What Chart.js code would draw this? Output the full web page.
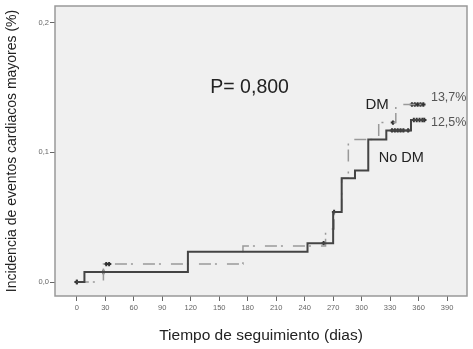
<!DOCTYPE html>
<html>
<head>
<meta charset="utf-8">
<script src="https://cdn.jsdelivr.net/npm/chart.js@4"></script>
<style>
    body { margin: 0; background: #fff; }
    #wrap { width: 473px; height: 349px; }
</style>
</head>
<body>
<div id="wrap"><canvas id="kmChart"></canvas></div>
<script>
// Kaplan-Meier style incidence curves (days, cumulative incidence)
const noDmDays = [0, 8, 117, 243, 270, 279, 293, 307, 326, 352, 366];
const noDmInc = [0, 0.0077, 0.0233, 0.030, 0.054, 0.080, 0.086, 0.110, 0.117, 0.125, 0.125];

const dmDays = [0, 28, 175, 262, 271, 279, 286, 318, 336, 366];
const dmInc = [0, 0.0138, 0.0277, 0.041, 0.054, 0.080, 0.110, 0.123, 0.137, 0.137];

// censored observations
const noDmCensorDays = [0, 28, 271, 332, 335, 338, 341, 344, 349, 355, 358, 361, 364, 366];
const noDmCensorInc = [0, 0.0077, 0.054, 0.117, 0.117, 0.117, 0.117, 0.117, 0.117, 0.125, 0.125, 0.125, 0.125, 0.125];
const dmCensorDays = [0, 31, 34, 260, 333, 353, 356, 359, 362, 365];
const dmCensorInc = [0, 0.0138, 0.0138, 0.030, 0.123, 0.137, 0.137, 0.137, 0.137, 0.137];

const xTicks = [0, 30, 60, 90, 120, 150, 180, 210, 240, 270, 300, 330, 360, 390];
const yTicks = [0, 0.1, 0.2];

const annotations = [
    { text: 'P= 0,800', x: 182, y: 0.150, size: 19.5, color: '#222', align: 'center' },
    { text: 'DM', x: 304, y: 0.137, size: 15, color: '#222', align: 'left' },
    { text: 'No DM', x: 318, y: 0.0954, size: 14.5, color: '#222', align: 'left' },
    { text: '13,7%', x: 373, y: 0.1423, size: 12.5, color: '#555', align: 'left' },
    { text: '12,5%', x: 373, y: 0.123, size: 12.5, color: '#555', align: 'left' }
];

function toPoints(xs, ys) {
    return xs.map((x, i) => ({ x: x, y: ys[i] }));
}

const plotFrame = {
    id: 'plotFrame',
    beforeDatasetsDraw(chart) {
        const a = chart.chartArea;
        const ctx = chart.ctx;
        ctx.save();
        ctx.fillStyle = '#f0f0f0';
        ctx.fillRect(a.left, a.top, a.right - a.left, a.bottom - a.top);
        ctx.restore();
    },
    afterDraw(chart) {
        const a = chart.chartArea;
        const ctx = chart.ctx;
        ctx.save();
        ctx.strokeStyle = '#999';
        ctx.lineWidth = 1.5;
        ctx.strokeRect(a.left, a.top, a.right - a.left, a.bottom - a.top);
        // text labels
        const xs = chart.scales.x, ys = chart.scales.y;
        annotations.forEach(t => {
            ctx.font = t.size + 'px "Liberation Sans", Arial, sans-serif';
            ctx.fillStyle = t.color;
            ctx.textAlign = t.align;
            ctx.textBaseline = 'middle';
            ctx.fillText(t.text, xs.getPixelForValue(t.x), ys.getPixelForValue(t.y));
        });
        ctx.restore();
    }
};

const tickFont = { family: '"Liberation Sans", Arial, sans-serif', size: 7.5 };

new Chart(document.getElementById('kmChart'), {
    type: 'line',
    data: {
        datasets: [
            {
                label: 'No DM',
                data: toPoints(noDmDays, noDmInc),
                stepped: true,
                borderColor: '#444',
                borderWidth: 2,
                pointRadius: 0,
                fill: false
            },
            {
                label: 'DM',
                data: toPoints(dmDays, dmInc),
                stepped: true,
                borderColor: '#999',
                borderWidth: 1.5,
                borderDash: [12, 4, 2, 10],
                pointRadius: 0,
                fill: false
            },
            {
                label: 'No DM censored',
                data: toPoints(noDmCensorDays, noDmCensorInc),
                showLine: false,
                pointStyle: 'cross',
                pointRadius: 2.2,
                borderColor: '#333',
                borderWidth: 2
            },
            {
                label: 'DM censored',
                data: toPoints(dmCensorDays, dmCensorInc),
                showLine: false,
                pointStyle: 'cross',
                pointRadius: 2.2,
                borderColor: '#333',
                borderWidth: 2
            }
        ]
    },
    options: {
        responsive: true,
        maintainAspectRatio: false,
        animation: false,
        layout: { padding: { top: 5, right: 2, left: 0, bottom: 0 } },
        plugins: {
            legend: { display: false },
            tooltip: { enabled: false }
        },
        scales: {
            x: {
                type: 'linear',
                min: -23,
                max: 411,
                afterBuildTicks: scale => { scale.ticks = xTicks.map(v => ({ value: v })); },
                afterFit: scale => { scale.height = 53; },
                ticks: {
                    font: tickFont,
                    color: '#666',
                    padding: 2,
                    maxRotation: 0,
                    callback: v => String(v)
                },
                grid: { drawOnChartArea: false, drawTicks: true, tickLength: 5, color: '#666' },
                border: { display: false },
                title: {
                    display: true,
                    text: 'Tiempo de seguimiento (dias)',
                    font: { family: '"Liberation Sans", Arial, sans-serif', size: 15.5 },
                    color: '#222',
                    padding: { top: 0, bottom: 4 }
                }
            },
            y: {
                type: 'linear',
                min: -0.0108,
                max: 0.213,
                afterBuildTicks: scale => { scale.ticks = yTicks.map(v => ({ value: v })); },
                afterFit: scale => { scale.width = 55; },
                ticks: {
                    font: tickFont,
                    color: '#666',
                    padding: 1,
                    callback: v => v.toFixed(1).replace('.', ',')
                },
                grid: { drawOnChartArea: false, drawTicks: true, tickLength: 5, color: '#666' },
                border: { display: false },
                title: {
                    display: true,
                    text: 'Incidencia de eventos cardiacos mayores (%)',
                    font: { family: '"Liberation Sans", Arial, sans-serif', size: 14 },
                    color: '#222',
                    padding: { top: 4, bottom: 0 }
                }
            }
        }
    },
    plugins: [plotFrame]
});
</script>
</body>
</html>
